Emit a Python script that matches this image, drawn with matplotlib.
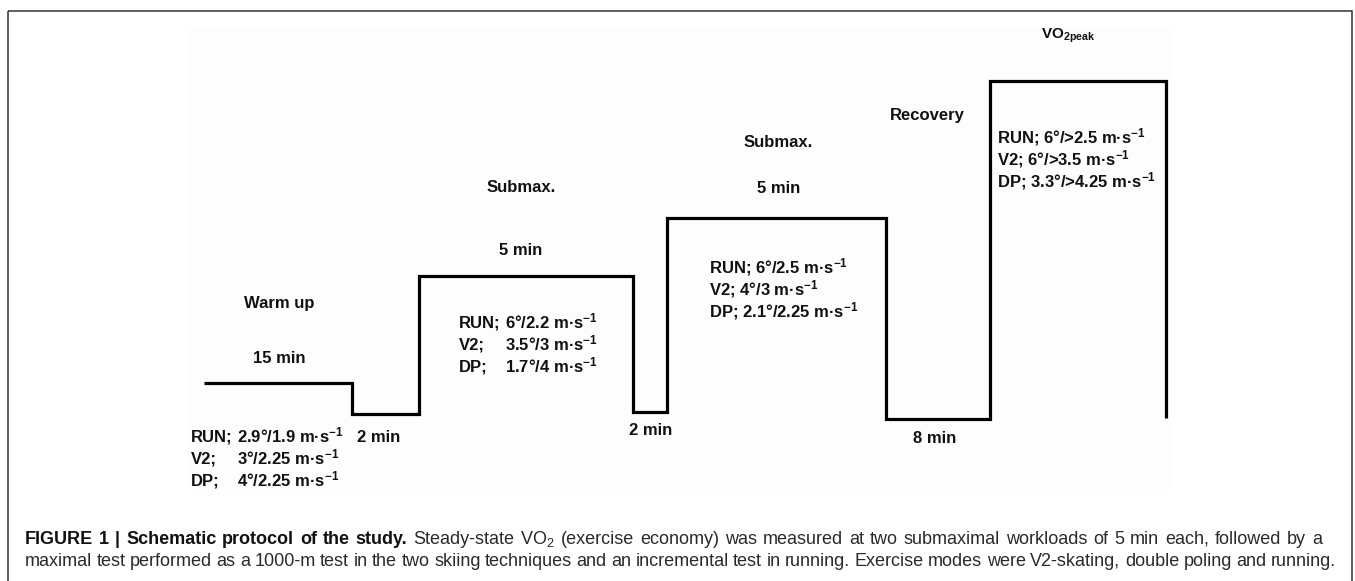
import numpy as np
import matplotlib
matplotlib.use('Agg')
from matplotlib import pyplot as plt
from matplotlib.patches import Rectangle

# 数据 (schematic protocol)
stage_edges = [204, 352, 419, 633, 667, 886, 990, 1166]
stage_levels = [47, 16, 154, 18, 212, 11, 349]
end_level = 12

stage_titles = ['Warm up', 'Submax.', 'Submax.', 'Recovery']
durations = ['15 min', '2 min', '5 min', '2 min', '5 min', '8 min']

modes = ['RUN;', 'V2;', 'DP;']
warmup_load = ['2.9°/1.9', '3°/2.25', '4°/2.25']
submax1_load = ['6°/2.2', '3.5°/3', '1.7°/4']
submax2_load = ['6°/2.5', '4°/3', '2.1°/2.25']
peak_load = ['6°/>2.5', '6°/>3.5', '3.3°/>4.25']
unit = r' m·s$^{\mathbf{-1}}$'

caption_bold = 'FIGURE 1 | Schematic protocol of the study.'
caption_1 = (r'Steady-state VO$_\mathrm{2}$ (exercise economy) was measured at two '
             'submaximal workloads of 5 min each, followed by a')
caption_2 = ('maximal test performed as a 1000-m test in the two skiing techniques and an '
             'incremental test in running. Exercise modes were V2-skating, double poling and running.')

# 字体
CAP_FONT = 'Liberation Sans'
plt.rcParams['font.family'] = ['Liberation Sans', 'DejaVu Sans']
plt.rcParams['mathtext.fontset'] = 'custom'
plt.rcParams['mathtext.rm'] = 'Liberation Sans'
plt.rcParams['mathtext.bf'] = 'Liberation Sans:bold'
plt.rcParams['mathtext.it'] = 'Liberation Sans:italic'

W, H = 1355, 581
fig = plt.figure(figsize=(W / 100, H / 100), dpi=100)
fig.patch.set_facecolor('white')

# pixel axes for frame, labels and caption
bg = fig.add_axes([0, 0, 1, 1])
bg.set_xlim(0, W)
bg.set_ylim(H, 0)
bg.axis('off')
bg.add_patch(Rectangle((8, 11), 1344, 620, fill=False, lw=1.1, ec='#333333'))
bg.add_patch(Rectangle((187, 27), 984, 463, fc='#fdfdfd', ec='none'))

# intensity axes for the step profile
ax = fig.add_axes([0, 0, 1, 1])
ax.set_xlim(0, W)
ax.set_ylim(430 - H, 430)
ax.axis('off')
ax.patch.set_alpha(0)

xs = list(np.repeat(stage_edges, 2)[1:-1]) + [stage_edges[-1]]
ys = list(np.repeat(stage_levels, 2)) + [end_level]
ax.plot(xs, ys, color='black', lw=2.3, solid_joinstyle='miter', solid_capstyle='butt')

LBL = dict(fontsize=12, fontweight='bold', color='#111111', va='baseline')

# 标题 和 时长
for s, (x, y) in zip(stage_titles, [(279, 308), (521, 192), (778, 147), (927, 120)]):
    bg.text(x, y, s, ha='center', **LBL)
for s, (x, y) in zip(durations, [(279, 363), (379, 442), (521, 255),
                                 (651, 435), (779, 193), (935, 443)]):
    bg.text(x, y, s, ha='center', **LBL)
bg.text(1068, 39, r'VO$_{\mathbf{2peak}}$', ha='center', fontsize=11,
        fontweight='bold', color='#111111', va='baseline')

renderer = fig.canvas.get_renderer()


def text_w(s, **kw):
    t = bg.text(0, 0, s, **kw)
    w = t.get_window_extent(renderer).width
    t.remove()
    return w


def load_block(x, y, loads, aligned):
    dx = text_w('RUN; ', fontsize=12, fontweight='bold')
    for i, (m, v) in enumerate(zip(modes, loads)):
        yy = y + i * 22
        if aligned:
            bg.text(x, yy, m, ha='left', **LBL)
            bg.text(x + dx, yy, v + unit, ha='left', **LBL)
        else:
            bg.text(x, yy, m + ' ' + v + unit, ha='left', **LBL)


load_block(191, 442, warmup_load, True)
load_block(459, 328, submax1_load, True)
load_block(709, 273, submax2_load, False)
load_block(997, 143, peak_load, False)

# 图注 (justified)
line1 = [(w, 'bold') for w in caption_bold.split()] + [(w, 'normal') for w in caption_1.split()]
line2 = [(w, 'normal') for w in caption_2.split()]
lines = [(line1, 25, 1322, 544), (line2, 25, 1336, 566)]

gap_min = 3.0
size = 13.0
for _ in range(3):
    fits = []
    for words, x0, x1, _y in lines:
        tot = sum(text_w(w, fontsize=size, fontweight=wt, family=CAP_FONT) for w, wt in words)
        fits.append(size * (x1 - x0 - gap_min * (len(words) - 1)) / tot)
    size = min(13.0, min(fits))

for words, x0, x1, y in lines:
    ws = [text_w(w, fontsize=size, fontweight=wt, family=CAP_FONT) for w, wt in words]
    gap = (x1 - x0 - sum(ws)) / (len(words) - 1)
    x = x0
    for (w, wt), wd in zip(words, ws):
        bg.text(x, y, w, fontsize=size, fontweight=wt, family=CAP_FONT,
                color='#111111' if wt == 'bold' else '#2a2a2a', ha='left', va='baseline')
        x += wd + gap

fig.savefig('out.png', dpi=100, facecolor='white')
